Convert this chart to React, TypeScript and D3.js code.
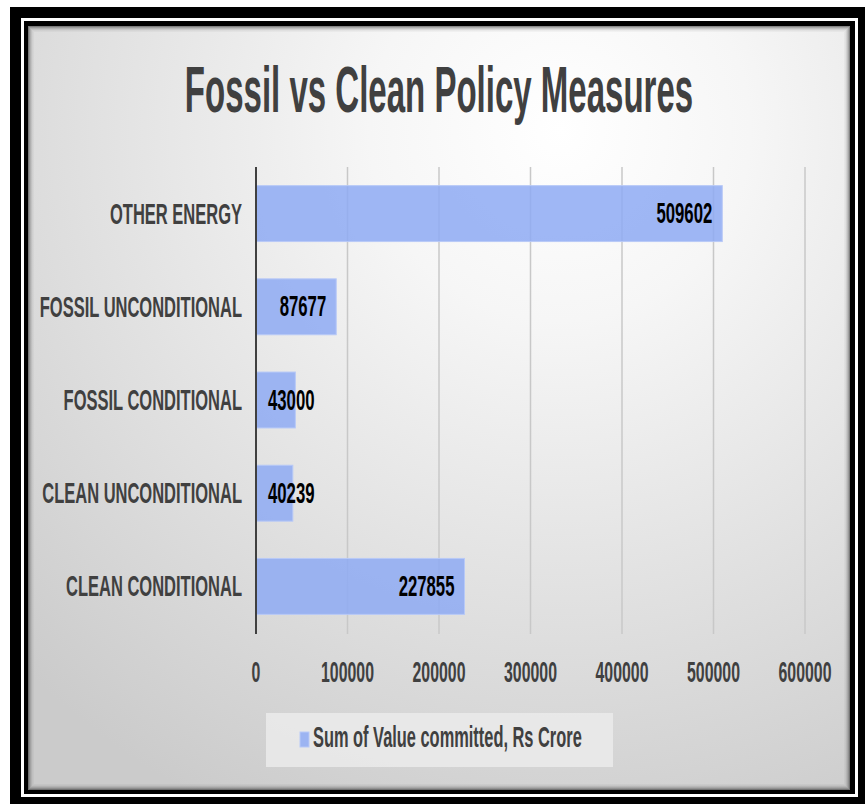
import React from "react";
import * as d3 from "d3";

const title = "Fossil vs Clean Policy Measures";
const categories = [
  "OTHER ENERGY",
  "FOSSIL UNCONDITIONAL",
  "FOSSIL CONDITIONAL",
  "CLEAN UNCONDITIONAL",
  "CLEAN CONDITIONAL",
];
const values = [509602, 87677, 43000, 40239, 227855];
const xTicks = [0, 100000, 200000, 300000, 400000, 500000, 600000];
const legendLabel = "Sum of Value committed, Rs Crore";

const FONT = "'Liberation Sans', Arial, sans-serif";

function SText({ x, y, sx, size, anchor, fill, children }: any) {
  return (
    <text
      transform={`translate(${x},${y}) scale(${sx},1)`}
      fontFamily={FONT}
      fontWeight="bold"
      fontSize={size}
      textAnchor={anchor}
      fill={fill}
    >
      {children}
    </text>
  );
}

export default function App() {
  const W = 865;
  const H = 804;
  const x = d3.scaleLinear().domain([0, 600000]).range([256, 805]);
  const y = d3
    .scaleBand<string>()
    .domain(categories)
    .range([167, 633])
    .paddingInner(0.4)
    .paddingOuter(0.2);
  const panel = { x: 28, y: 26, w: 822, h: 764 };
  const shadowOps = [0.45, 0.3, 0.2, 0.12, 0.06, 0.03];

  return (
    <svg
      width={W}
      height={H}
      style={{ position: "absolute", left: 0, top: 0, display: "block" }}
    >
      <defs>
        <radialGradient id="bg" gradientUnits="userSpaceOnUse" cx={560} cy={130} r={760}>
          <stop offset="0" stopColor="#ffffff" />
          <stop offset="0.25" stopColor="#f6f6f6" />
          <stop offset="1" stopColor="#cbcbcb" />
        </radialGradient>
      </defs>
      <rect x={0} y={0} width={W} height={H} fill="#ffffff" />
      {/* frame */}
      <rect x={10} y={7} width={855} height={797} fill="#000" />
      <rect x={21} y={18} width={837} height={779} fill="#fff" />
      <rect x={24} y={21} width={831} height={773} fill="#000" />
      <rect x={panel.x} y={panel.y} width={panel.w} height={panel.h} fill="url(#bg)" />
      {shadowOps.map((o, i) => (
        <rect
          key={i}
          x={panel.x + i + 0.5}
          y={panel.y + i + 0.5}
          width={panel.w - 2 * i - 1}
          height={panel.h - 2 * i - 1}
          fill="none"
          stroke="#000"
          strokeOpacity={o}
        />
      ))}

      {/* title */}
      <SText x={439} y={112} sx={0.508} size={65} anchor="middle" fill="#404040">
        {title}
      </SText>

      {/* gridlines */}
      {xTicks.slice(1).map((t) => (
        <line
          key={t}
          x1={x(t)}
          x2={x(t)}
          y1={167}
          y2={634}
          stroke="#c8c8c8"
          strokeWidth={1.5}
        />
      ))}

      {/* bars */}
      {categories.map((c, i) => (
        <rect
          key={c}
          x={x(0)}
          y={y(c)}
          width={x(values[i]) - x(0)}
          height={y.bandwidth()}
          fill="#8eaaf3"
          fillOpacity={0.85}
          stroke="#b8c9f7"
          strokeWidth={1}
        />
      ))}

      {/* axis line */}
      <line x1={x(0)} x2={x(0)} y1={167} y2={634} stroke="#404040" strokeWidth={2} />

      {/* category labels */}
      {categories.map((c) => (
        <SText
          key={c}
          x={242}
          y={(y(c) as number) + y.bandwidth() / 2 + 10}
          sx={0.55}
          size={30}
          anchor="end"
          fill="#404040"
        >
          {c}
        </SText>
      ))}

      {/* data labels */}
      {categories.map((c, i) => {
        const v = values[i];
        const s = String(v);
        const w = s.length * 9.3;
        const xe = x(v) - 10;
        const fits = xe - w >= x(0) + 12;
        return (
          <SText
            key={c}
            x={fits ? xe : x(0) + 12}
            y={(y(c) as number) + y.bandwidth() / 2 + 9.5}
            sx={0.558}
            size={30}
            anchor={fits ? "end" : "start"}
            fill="#000"
          >
            {s}
          </SText>
        );
      })}

      {/* x tick labels */}
      {xTicks.map((t) => (
        <SText key={t} x={x(t)} y={682} sx={0.529} size={30} anchor="middle" fill="#404040">
          {String(t)}
        </SText>
      ))}

      {/* legend */}
      <rect x={266} y={713} width={347} height={54} fill="#ebebeb" fillOpacity={0.85} />
      <rect x={300} y={732} width={9} height={15} fill="#8eaaf3" fillOpacity={0.85} stroke="#b8c9f7" />
      <SText x={313} y={747} sx={0.547} size={30} anchor="start" fill="#404040">
        {legendLabel}
      </SText>
    </svg>
  );
}
